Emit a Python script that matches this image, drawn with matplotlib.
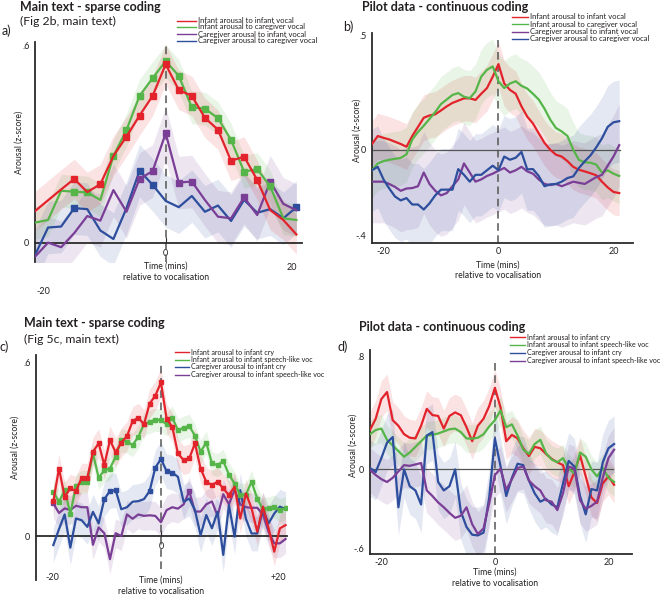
import numpy as np
import matplotlib
matplotlib.use("Agg")
import matplotlib.pyplot as plt
from matplotlib.lines import Line2D

plt.rcParams['font.family'] = ['Lato', 'DejaVu Sans']

W, H = 664, 600

# ---------------- data ----------------
# Panel a (2-min bins)
x_a = np.arange(-20, 21, 2)
a_red = [0.097, 0.13, 0.163, 0.195, 0.155, 0.179, 0.265, 0.324, 0.388, 0.448, 0.544,
         0.466, 0.448, 0.381, 0.345, 0.25, 0.263, 0.192, 0.10, 0.07, 0.026]
a_green = [0.062, 0.07, 0.159, 0.156, 0.154, 0.131, 0.265, 0.344, 0.448, 0.502, 0.554,
           0.509, 0.413, 0.409, 0.38, 0.314, 0.217, 0.225, 0.172, 0.075, 0.07]
a_purple = [-0.042, 0.001, -0.013, 0.03, 0.082, 0.068, 0.161, 0.095, 0.195, 0.219, 0.334,
            0.184, 0.187, 0.131, 0.08, 0.075, 0.139, 0.085, 0.187, 0.119, 0.10]
a_blue = [-0.037, 0.047, 0.05, 0.106, 0.103, 0.038, 0.012, 0.106, 0.22, 0.177, 0.128,
          0.109, 0.143, 0.095, 0.114, 0.067, 0.131, 0.092, 0.103, 0.075, 0.109]
a_err = [0.06, 0.05, 0.08, 0.08]  # red, green, purple, blue
a_mark_red = [-14, -10, -6, -4, -2, 0, 2, 4, 6, 8, 10, 12, 14]
a_mark_green = [-14, -12, -8, -6, -4, -2, 0, 2, 4, 6, 8, 10, 12, 14, 16]
a_mark_purple = [-4, -2, 0, 2, 4, 12, 16]
a_mark_blue = [-14, -4, -2, 20]
a_labels = ["Infant arousal to infant vocal", "Infant arousal to caregiver vocal",
            "Caregiver arousal to infant vocal", "Caregiver arousal to caregiver vocal"]

# Panel b (1-min, continuous)
x_b = np.arange(-22, 22)
b_red = [0.025, 0.06, 0.052, 0.045, 0.035, 0.025, 0.013, 0.06, 0.1, 0.14, 0.15, 0.155,
         0.172, 0.19, 0.205, 0.215, 0.225, 0.225, 0.218, 0.245, 0.27, 0.32,
         0.375, 0.29, 0.262, 0.245, 0.19, 0.145, 0.115, 0.072, 0.03, 0.0, -0.022, -0.03,
         -0.05, -0.075, -0.088, -0.095, -0.103, -0.112, -0.14, -0.165, -0.185, -0.19]
b_green = [-0.09, -0.06, -0.05, -0.044, -0.04, -0.036, -0.02, 0.045, 0.078, 0.105, 0.135,
           0.165, 0.2, 0.22, 0.24, 0.248, 0.232, 0.226, 0.255, 0.32, 0.35, 0.365,
           0.3, 0.27, 0.29, 0.3, 0.28, 0.268, 0.245, 0.22, 0.18, 0.132, 0.095, 0.08, 0.06,
           0.0, -0.045, -0.055, -0.057, -0.065, -0.1, -0.09, -0.105, -0.115]
b_purple = [-0.14, -0.14, -0.14, -0.15, -0.163, -0.18, -0.17, -0.168, -0.16, -0.1, -0.15,
            -0.18, -0.2, -0.19, -0.16, -0.13, -0.06, -0.1, -0.14, -0.13, -0.115, -0.105,
            -0.092, -0.08, -0.1, -0.09, -0.075, -0.095, -0.105, -0.13, -0.15, -0.155, -0.15,
            -0.16, -0.15, -0.14, -0.145, -0.15, -0.135, -0.12, -0.11, -0.07, -0.03, 0.02]
b_blue = [-0.09, -0.075, -0.13, -0.17, -0.205, -0.222, -0.212, -0.24, -0.24, -0.262, -0.235,
          -0.2, -0.175, -0.175, -0.175, -0.085, -0.11, -0.14, -0.11, -0.11, -0.09, -0.07,
          -0.09, -0.03, -0.044, -0.035, -0.01, -0.086, -0.085, -0.115, -0.16, -0.152, -0.15,
          -0.14, -0.124, -0.117, -0.08, -0.051, -0.025, 0.01, 0.05, 0.1, 0.12, 0.125]
b_err = [0.1, 0.12, 0.18, 0.18]  # red, green, purple, blue

# Panel c (1-min, sparse)
x_c = np.arange(-19, 23)
c_red = [0.121, 0.234, 0.136, 0.165, 0.156, 0.202, 0.202, 0.292, 0.321, 0.246, 0.332, 0.29,
         0.324, 0.346, 0.398, 0.41, 0.387, 0.459, 0.486, 0.532,
         0.407, 0.378, 0.286, 0.263, 0.269, 0.321, 0.234, 0.188, 0.177, 0.188, 0.165, 0.142,
         0.171, 0.061, 0.148, 0.096, 0.015, 0.102, 0.027, -0.054, 0.027, 0.038]
c_green = [0.153, 0.119, 0.159, 0.078, 0.173, 0.188, 0.188, 0.286, 0.202, 0.228, 0.234, 0.275,
           0.332, 0.327, 0.315, 0.344, 0.387, 0.396, 0.402, 0.402,
           0.387, 0.41, 0.367, 0.375, 0.382, 0.347, 0.292, 0.324, 0.252, 0.246, 0.26, 0.213,
           0.182, 0.142, 0.144, 0.188, 0.13, 0.093, 0.096, 0.102, 0.09, 0.096]
c_blue = [-0.031, 0.024, 0.075, -0.04, 0.061, 0.055, 0.032, 0.084, 0.044, 0.128, 0.156, 0.159,
          0.093, 0.1, 0.119, 0.121, 0.128, 0.156, 0.237, 0.267,
          0.225, 0.22, 0.205, 0.119, 0.13, 0.09, 0.003, 0.073, 0.027, 0.084, -0.065, 0.107,
          -0.002, 0.159, 0.06, 0.009, 0.009, 0.093, 0.044, 0.078, 0.102, 0.093]
c_purple = [0.113, 0.08, 0.096, 0.09, 0.105, 0.1, 0.1, -0.03, 0.03, 0.01, -0.08, 0.01, 0.0,
            0.075, 0.06, 0.075, 0.07, 0.072, 0.07, 0.048,
            0.09, 0.1, 0.095, 0.11, 0.155, 0.085, 0.085, 0.11, 0.12, 0.07, 0.145, 0.11, 0.16,
            0.11, 0.1, 0.098, 0.098, 0.075, 0.015, -0.025, -0.025, -0.01]
c_err = [0.05, 0.04, 0.06, 0.05]  # red, green, blue, purple
c_mark_red = list(range(-19, 13))
c_mark_green = list(range(-19, 23))
c_mark_blue = [-10, -9, -8, -2, -1, 0, 1, 2]
c_mark_purple = [-19, 5]
c_labels = ["Infant arousal to infant cry", "Infant arousal to infant speech-like voc",
            "Caregiver arousal to infant cry", "Caregiver arousal to infant speech-like voc"]

# Panel d (1-min, continuous)
x_d = np.arange(-22, 22)
d_red = [0.28, 0.36, 0.5, 0.55, 0.35, 0.31, 0.25, 0.225, 0.22, 0.31, 0.43, 0.386, 0.38, 0.29,
         0.38, 0.405, 0.385, 0.3, 0.2, 0.31, 0.36, 0.45,
         0.58, 0.44, 0.2, 0.245, 0.22, 0.15, 0.095, 0.16, 0.15, 0.11, 0.075, 0.05, 0.03, -0.12,
         -0.02, 0.1, -0.05, -0.2, -0.24, -0.1, -0.05, -0.11]
d_green = [0.25, 0.28, 0.29, 0.21, 0.17, 0.13, 0.09, 0.12, 0.16, 0.2, 0.24, 0.245, 0.255, 0.27,
           0.285, 0.29, 0.265, 0.22, 0.218, 0.225, 0.25, 0.305,
           0.35, 0.42, 0.3, 0.32, 0.24, 0.14, 0.11, 0.18, 0.21, 0.115, 0.07, 0.05, 0.08, 0.005,
           -0.03, 0.12, 0.09, 0.0, -0.05, 0.01, -0.06, -0.09]
d_blue = [0.01, -0.02, 0.08, 0.19, 0.23, -0.27, 0.0, -0.12, -0.15, -0.25, 0.24, 0.265, -0.09,
          -0.15, -0.12, 0.0, -0.3, -0.41, -0.465, -0.47, -0.45, -0.2,
          0.22, 0.02, -0.19, -0.06, 0.04, 0.03, -0.08, -0.17, -0.23, -0.21, -0.25, -0.27, -0.1,
          0.06, 0.02, -0.19, -0.32, -0.14, -0.15, 0.05, 0.15, 0.18]
d_purple = [-0.005, -0.04, -0.07, -0.09, -0.06, -0.015, 0.03, 0.025, 0.035, 0.045, -0.15,
            -0.19, -0.235, -0.27, -0.31, -0.345, -0.33, -0.27, -0.39, -0.46, -0.42, -0.24,
            -0.04, 0.005, -0.145, -0.07, 0.01, 0.02, -0.08, -0.12, -0.15, -0.22, -0.23, -0.29,
            -0.17, 0.02, 0.005, -0.22, -0.28, -0.26, -0.23, -0.06, 0.08, 0.14]
d_err = [0.13, 0.1, 0.2, 0.16]  # red, green, blue, purple

RED, GREEN, PURPLE, BLUE = '#e3232b', '#55b548', '#7a3e96', '#2d4e9d'
TXT = '#231f20'
AX = '#2b2b2b'

fig = plt.figure(figsize=(W / 100, H / 100), dpi=100)


def add_ax(left, top, right, bottom):
    return fig.add_axes([left / W, 1 - bottom / H, (right - left) / W, (bottom - top) / H])


def T(x, y, s, **kw):
    kw.setdefault('color', TXT)
    return fig.text(x / W, 1 - y / H, s, **kw)


def band_line(ax, x, y, err, color, marks=None, ms=4.5, z=3):
    y = np.asarray(y, float)
    ax.fill_between(x, y - err, y + err, color=color, alpha=0.13, lw=0, zorder=1)
    me = None
    if marks is not None:
        me = list(np.where(np.isin(x, marks))[0])
    ax.plot(x, y, color=color, lw=1.6, zorder=z, marker='s' if marks is not None else None,
            markevery=me, ms=ms, mec=color, mfc=color)


def legend(xh0, xh1, xt, ys, labels, colors, fs=5.5):
    for y, lab, c in zip(ys, labels, colors):
        fig.add_artist(Line2D([xh0 / W, xh1 / W], [1 - y / H] * 2, color=c, lw=1.0))
        T(xt, y, lab, fontsize=fs, va='center', ha='left')


def style(ax):
    for s in ('top', 'right'):
        ax.spines[s].set_visible(False)
    for s in ('left', 'bottom'):
        ax.spines[s].set_color(AX)
        ax.spines[s].set_linewidth(1.3)
    ax.tick_params(axis='y', length=0, pad=4, labelsize=6.5, labelcolor=TXT)
    ax.tick_params(axis='x', length=0, pad=3, labelsize=6.5, labelcolor=TXT)
    ax.set_facecolor('none')


TITLE_FS = 9.0
SUB_FS = 8.8
LET_FS = 9.0
LAB_FS = 6.2

# ---------------- panel a ----------------
ax = add_ax(35, 42, 302, 262)
style(ax)
ax.set_xlim(-20, 20.86)
ax.set_ylim(-0.058, 0.612)
ax.spines['bottom'].set_position(('data', 0))
ax.set_yticks([0, 0.6], ['0', '.6'])
ax.set_xticks([0], ['0'])
ax.tick_params(axis='x', direction='in', length=4, color=AX, pad=4)
ax.axvline(0, color='#555555', lw=1.1, ls=(0, (5, 3)), zorder=2)
band_line(ax, x_a, a_blue, a_err[3], BLUE, a_mark_blue)
band_line(ax, x_a, a_purple, a_err[2], PURPLE, a_mark_purple)
band_line(ax, x_a, a_green, a_err[1], GREEN, a_mark_green)
band_line(ax, x_a, a_red, a_err[0], RED, a_mark_red)
T(19, 142, 'Arousal (z-score)', fontsize=LAB_FS, rotation=90, ha='center', va='center')
T(166, 266, 'Time (mins)', fontsize=LAB_FS, ha='center', va='center')
T(166, 277, 'relative to vocalisation', fontsize=LAB_FS, ha='center', va='center')
T(292, 267, '20', fontsize=6.5, ha='center', va='center')
T(43, 292, '-20', fontsize=6.5, ha='center', va='center')
T(20, 7, 'Main text - sparse coding', fontsize=TITLE_FS, fontweight='bold', ha='left', va='center')
T(20, 21, '(Fig 2b, main text)', fontsize=SUB_FS, ha='left', va='center')
T(2, 31, 'a)', fontsize=LET_FS, ha='left', va='center')
legend(177, 196, 198, [20.7, 27.0, 34.0, 41.0], a_labels, [RED, GREEN, PURPLE, BLUE])

# ---------------- panel b ----------------
ax = add_ax(372, 33.3, 633, 243.3)
style(ax)
ax.set_xlim(-22, 23.4)
ax.set_ylim(-0.41, 0.51)
ax.set_yticks([-0.4, 0, 0.5], ['-.4', '0', '.5'])
ax.set_xticks([-20, 0, 20], ['-20', '0', '20'])
ax.get_yticklabels()[0].set_va('bottom')
ax.axhline(0, xmin=0, xmax=0.95, color='#555555', lw=0.9, zorder=2)
ax.axvline(0, ymin=0, ymax=0.97, color='#555555', lw=1.1, ls=(0, (5, 3)), zorder=2)
band_line(ax, x_b, b_red, b_err[0], RED)
band_line(ax, x_b, b_green, b_err[1], GREEN)
band_line(ax, x_b, b_purple, b_err[2], PURPLE)
band_line(ax, x_b, b_blue, b_err[3], BLUE)
T(357, 130, 'Arousal (z-score)', fontsize=LAB_FS, rotation=90, ha='center', va='center')
T(498, 265, 'Time (mins)', fontsize=LAB_FS, ha='center', va='center')
T(498, 276, 'relative to vocalisation', fontsize=LAB_FS, ha='center', va='center')
T(362, 7, 'Pilot data - continuous coding', fontsize=TITLE_FS, fontweight='bold', ha='left', va='center')
T(343, 27, 'b)', fontsize=LET_FS, ha='left', va='center')
legend(512, 528, 530, [16.7, 24.0, 31.5, 38.5], a_labels, [RED, GREEN, PURPLE, BLUE])

# ---------------- panel c ----------------
ax = add_ax(36, 355, 286.7, 580)
style(ax)
ax.set_xlim(-22.06, 22.2)
ax.set_ylim(-0.152, 0.627)
ax.spines['bottom'].set_position(('data', 0))
ax.set_yticks([0, 0.6], ['0', '.6'])
ax.set_xticks([0], ['0'])
ax.tick_params(axis='x', direction='in', length=4, color=AX, pad=4)
ax.axvline(0, ymin=0.05, ymax=0.97, color='#555555', lw=1.1, ls=(0, (5, 3)), zorder=2)
band_line(ax, x_c, c_purple, c_err[3], PURPLE, c_mark_purple, ms=3.2)
band_line(ax, x_c, c_blue, c_err[2], BLUE, c_mark_blue, ms=3.2)
band_line(ax, x_c, c_green, c_err[1], GREEN, c_mark_green, ms=3.2)
band_line(ax, x_c, c_red, c_err[0], RED, c_mark_red, ms=3.2)
T(15, 447, 'Arousal (z-score)', fontsize=LAB_FS, rotation=90, ha='center', va='center')
T(161, 580, 'Time (mins)', fontsize=LAB_FS, ha='center', va='center')
T(161, 592, 'relative to vocalisation', fontsize=LAB_FS, ha='center', va='center')
T(52, 578, '-20', fontsize=6.5, ha='center', va='center')
T(278, 578, '+20', fontsize=6.5, ha='center', va='center')
T(24, 323, 'Main text - sparse coding', fontsize=TITLE_FS, fontweight='bold', ha='left', va='center')
T(24, 339, '(Fig 5c, main text)', fontsize=SUB_FS, ha='left', va='center')
T(0, 347, 'c)', fontsize=LET_FS, ha='left', va='center')
legend(175, 189, 191, [352, 359.5, 367, 374.5], c_labels, [RED, GREEN, BLUE, PURPLE], fs=5.1)

# ---------------- panel d ----------------
ax = add_ax(370, 350, 631.7, 553.7)
style(ax)
ax.set_xlim(-22, 24.1)
ax.set_ylim(-0.6, 0.849)
ax.set_yticks([-0.6, 0, 0.8], ['-.6', '0', '.8'])
ax.set_xticks([-20, 0, 20], ['-20', '0', '20'])
ax.get_yticklabels()[0].set_va('bottom')
ax.axhline(0, xmin=0, xmax=0.93, color='#555555', lw=0.9, zorder=2)
ax.axvline(0, ymin=0, ymax=0.95, color='#555555', lw=1.1, ls=(0, (5, 3)), zorder=2)
band_line(ax, x_d, d_red, d_err[0], RED)
band_line(ax, x_d, d_green, d_err[1], GREEN)
band_line(ax, x_d, d_blue, d_err[2], BLUE)
band_line(ax, x_d, d_purple, d_err[3], PURPLE)
T(353, 445, 'Arousal (z-score)', fontsize=LAB_FS, rotation=90, ha='center', va='center')
T(495, 572, 'Time (mins)', fontsize=LAB_FS, ha='center', va='center')
T(495, 583, 'relative to vocalisation', fontsize=LAB_FS, ha='center', va='center')
T(359, 327, 'Pilot data - continuous coding', fontsize=TITLE_FS, fontweight='bold', ha='left', va='center')
T(338, 347, 'd)', fontsize=LET_FS, ha='left', va='center')
legend(510, 525, 527, [337.3, 345.0, 352.7, 360.5], c_labels, [RED, GREEN, BLUE, PURPLE], fs=5.1)

fig.savefig('out.png', dpi=100)
